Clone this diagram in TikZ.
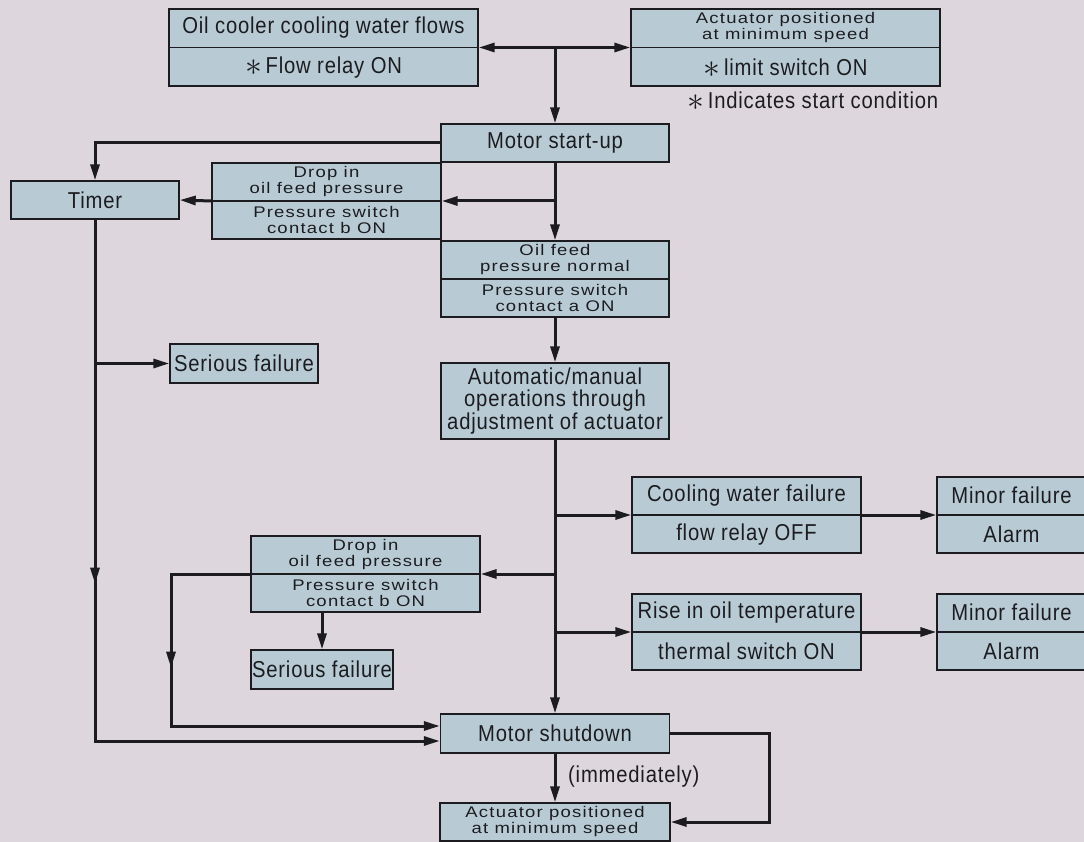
\documentclass[tikz,border=0pt]{standalone}
\usepackage{fontspec}
\setmainfont{Liberation Sans}
\newfontfamily\condf[FakeStretch=0.88,LetterSpace=3.5]{Liberation Sans}
\newfontfamily\widef[FakeStretch=1.2,LetterSpace=8]{Liberation Sans}
\usetikzlibrary{arrows.meta,calc,decorations.markings}
\definecolor{bg}{RGB}{221,215,221}
\definecolor{boxfill}{RGB}{184,203,213}
\definecolor{ink}{RGB}{28,28,32}
\newcommand{\strt}{\smash{\raisebox{-2.2pt}{\scalebox{1.35}{$\ast$}}}\,}
\begin{document}
\begin{tikzpicture}[x=1pt,y=-1pt,
  box/.style 2 args={draw=ink, line width=1.4pt, fill=boxfill, inner sep=0pt,
    minimum width=#1, minimum height=#2, text=ink},
  bigt/.style={font=\condf\fontsize{23}{22.5}\selectfont, text=ink, inner sep=0pt, align=center},
  smallt/.style={font=\widef\fontsize{15.4}{16}\selectfont, text=ink, inner sep=0pt, align=center},
  divline/.style={draw=ink, line width=1.4pt},
  conn/.style={draw=ink, line width=3pt},
  tip/.tip={Triangle[length=16pt,width=9pt]},
  arr/.style={conn, -tip},
  midarrow/.style={postaction={decorate}, decoration={markings,
    mark=at position #1 with {\arrow{tip}}}}]
\fill[bg] (0,0) rectangle (1084,842);
\useasboundingbox (0,0) rectangle (1084,842);

% two-part boxes
\node[box={309}{77}] (oil) at (323.5,47.5) {};
\draw[divline] (oil.west) -- (oil.east);
\node[bigt] (oilT) at ($(oil.north)!0.5!(oil.center)$) {Oil cooler cooling water flows};
\node[bigt] (oilB) at ($(oil.south)!0.5!(oil.center)$) {\strt Flow relay ON};

\node[box={309}{77}] (act) at (785.5,47.5) {};
\draw[divline] (act.west) -- (act.east);
\node[smallt] (actT) at ($(act.north)!0.5!(act.center)$) {Actuator positioned\\at minimum speed};
\node[bigt] (actB) at ($(act.south)!0.5!(act.center)$) {\strt limit switch ON};
\node[bigt, anchor=west] (note) at (687,100) {\strt Indicates start condition};

\node[box={229}{76}] (drop1) at (326.5,201) {};
\draw[divline] (drop1.west) -- (drop1.east);
\node[smallt] (drop1T) at ($(drop1.north)!0.5!(drop1.center)$) {Drop in\\oil feed pressure};
\node[smallt] (drop1B) at ($(drop1.south)!0.5!(drop1.center)$) {Pressure switch\\contact b ON};

\node[box={228}{76}] (ofn) at (555,279) {};
\draw[divline] (ofn.west) -- (ofn.east);
\node[smallt] (ofnT) at ($(ofn.north)!0.5!(ofn.center)$) {Oil feed\\pressure normal};
\node[smallt] (ofnB) at ($(ofn.south)!0.5!(ofn.center)$) {Pressure switch\\contact a ON};

\node[box={229}{76}] (cool) at (746.5,515) {};
\draw[divline] (cool.west) -- (cool.east);
\node[bigt] (coolT) at ($(cool.north)!0.5!(cool.center)$) {Cooling water failure};
\node[bigt] (coolB) at ($(cool.south)!0.5!(cool.center)$) {flow relay OFF};

\node[box={149}{76}] (minor1) at (1011.5,515) {};
\draw[divline] (minor1.west) -- (minor1.east);
\node[bigt] (minor1T) at ($(minor1.north)!0.5!(minor1.center)$) {Minor failure};
\node[bigt] (minor1B) at ($(minor1.south)!0.5!(minor1.center)$) {Alarm};

\node[box={229}{76}] (rise) at (746.5,632) {};
\draw[divline] (rise.west) -- (rise.east);
\node[bigt] (riseT) at ($(rise.north)!0.5!(rise.center)$) {Rise in oil temperature};
\node[bigt] (riseB) at ($(rise.south)!0.5!(rise.center)$) {thermal switch ON};

\node[box={149}{76}] (minor2) at (1011.5,632) {};
\draw[divline] (minor2.west) -- (minor2.east);
\node[bigt] (minor2T) at ($(minor2.north)!0.5!(minor2.center)$) {Minor failure};
\node[bigt] (minor2B) at ($(minor2.south)!0.5!(minor2.center)$) {Alarm};

\node[box={229}{76}] (drop2) at (365.5,574) {};
\draw[divline] (drop2.west) -- (drop2.east);
\node[smallt] (drop2T) at ($(drop2.north)!0.5!(drop2.center)$) {Drop in\\oil feed pressure};
\node[smallt] (drop2B) at ($(drop2.south)!0.5!(drop2.center)$) {Pressure switch\\contact b ON};

% single boxes
\node[box={228}{38}, bigt] (mstart) at (555,143) {Motor start-up};
\node[box={168}{38}, bigt] (timer) at (95,200) {Timer};
\node[box={148}{39}, bigt] (serious1) at (244,363.5) {Serious failure};
\node[box={228}{76}, bigt] (auto) at (555,401) {Automatic/manual\\operations through\\adjustment of actuator};
\node[box={142}{39}, bigt] (serious2) at (322,669.5) {Serious failure};
\node[box={229}{39}, bigt] (mshut) at (555,733.5) {Motor shutdown};
\node[box={230}{38}, smallt] (actb) at (555,822) {Actuator positioned\\at minimum speed};
\node[bigt, anchor=west] (imm) at (568,777) {(immediately)};

% connectors
\draw[arr] (mstart.north |- oil.east) -- (oil.east);
\draw[arr] (mstart.north |- oil.east) -- (act.west);
\draw[arr] (mstart.north |- oil.east) -- (mstart.north);
\draw[arr] (mstart.west) -| (timer.north);
\draw[arr] (mstart.south |- drop1.east) -- (drop1.east);
\draw[arr] (mstart.south) -- (ofn.north);
\draw[arr] (drop1.west) -- (timer.east);
\draw[arr] (ofn.south) -- (auto.north);
\draw[arr] (auto.south) -- (mshut.north);
\draw[arr] (auto.south |- cool.west) -- (cool.west);
\draw[arr] (auto.south |- drop2.east) -- (drop2.east);
\draw[arr] (auto.south |- rise.west) -- (rise.west);
\draw[arr] (cool.east) -- (minor1.west);
\draw[arr] (rise.east) -- (minor2.west);
\draw[arr] (drop2.south -| serious2.north) -- (serious2.north);
\draw[arr] (mshut.south) -- (actb.north);

\coordinate (tcorner) at (95,741);
\draw[arr, midarrow=364pt] (timer.south) -- (tcorner) -- ([yshift=-7.5pt]mshut.west);
\draw[arr] (timer.south |- serious1.west) -- (serious1.west);

\coordinate (dcorner) at (171,726);
\draw[arr, midarrow=173pt] (drop2.west) -| (dcorner) -- ([yshift=7.5pt]mshut.west);

\coordinate (loopx) at (769,0);
\draw[arr] (mshut.east) -| (loopx |- actb.east) -- (actb.east);
\end{tikzpicture}
\end{document}
